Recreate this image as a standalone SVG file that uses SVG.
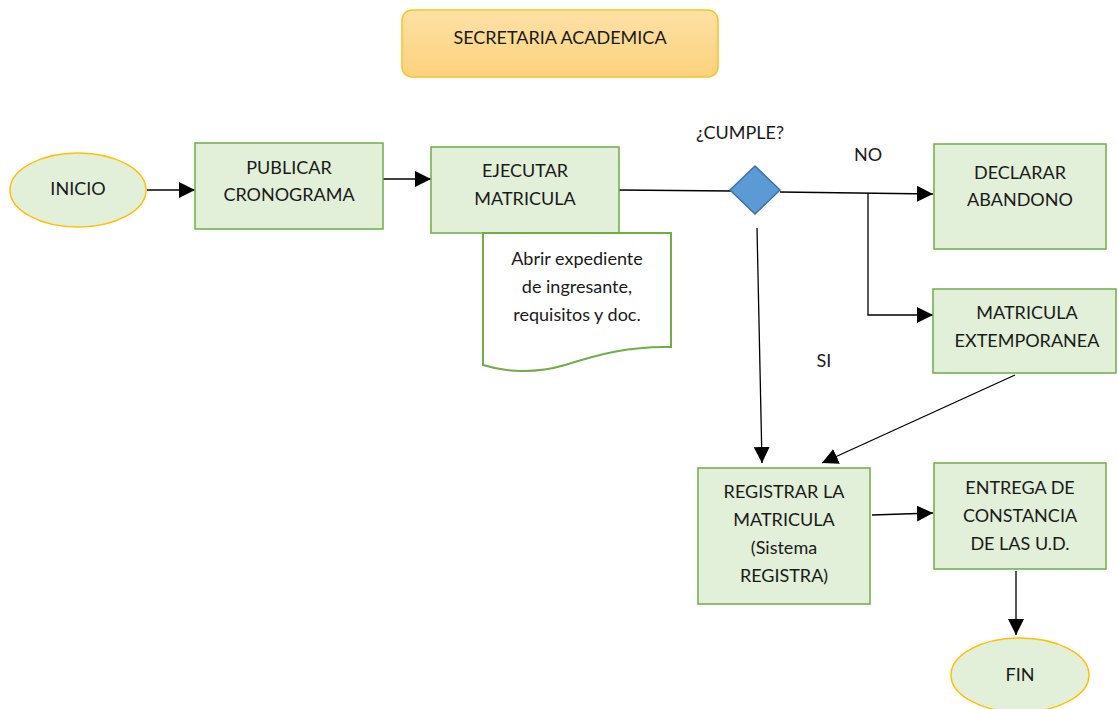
<svg xmlns="http://www.w3.org/2000/svg" width="1118" height="709" viewBox="0 0 1118 709">
  <style>
    .txt { font-family: Lato, "Open Sans", sans-serif; font-size: 18px; fill: #1a1a1a; text-anchor: middle; }
    .box { fill: #e2efd9; stroke: #70ad47; stroke-width: 1.5; }
    .term { fill: #e2efd9; stroke: #ffc000; stroke-width: 1.5; }
    .wire { fill: none; stroke: #000; stroke-width: 1.3; }
  </style>
  <defs>
    <linearGradient id="gold" x1="0" y1="0" x2="0" y2="1">
      <stop offset="0" stop-color="#fee1a6"/>
      <stop offset="1" stop-color="#fcd27c"/>
    </linearGradient>
    <marker id="arrowL" viewBox="0 0 10 10" refX="10" refY="5" markerWidth="16" markerHeight="16" markerUnits="userSpaceOnUse" orient="auto">
      <path d="M0,0 L10,5 L0,10 Z" fill="#000"/>
    </marker>
  </defs>

  <rect width="1118" height="709" fill="#fff"/>

  <!-- connectors -->
  <g id="connectors">
    <path class="wire" d="M147,190 H195" marker-end="url(#arrowL)"/>
    <path class="wire" d="M383,179 H431" marker-end="url(#arrowL)"/>
    <path class="wire" d="M619,190 L731,191"/>
    <path class="wire" d="M780,192 L933,194" marker-end="url(#arrowL)"/>
    <path class="wire" d="M868,193 V315 H933" marker-end="url(#arrowL)"/>
    <path class="wire" d="M757,228 L762,463" marker-end="url(#arrowL)"/>
    <path class="wire" d="M1015,375 L822,463" marker-end="url(#arrowL)"/>
    <path class="wire" d="M872,515 L933,513" marker-end="url(#arrowL)"/>
    <path class="wire" d="M1016,571 V635" marker-end="url(#arrowL)"/>
  </g>

  <g id="titulo">
    <rect x="402" y="10" width="316" height="67" rx="10" ry="10" fill="url(#gold)" stroke="#f9c326" stroke-width="1.5"/>
    <text class="txt" x="560" y="44">SECRETARIA ACADEMICA</text>
  </g>

  <g id="inicio">
    <ellipse class="term" cx="78" cy="190" rx="68" ry="37"/>
    <text class="txt" x="78" y="195">INICIO</text>
  </g>

  <g id="publicar">
    <rect class="box" x="195" y="143" width="188" height="86"/>
    <text class="txt" x="289" y="174">PUBLICAR</text>
    <text class="txt" x="289" y="201">CRONOGRAMA</text>
  </g>

  <g id="ejecutar">
    <rect class="box" x="431" y="147" width="188" height="86"/>
    <text class="txt" x="525" y="177">EJECUTAR</text>
    <text class="txt" x="525" y="205">MATRICULA</text>
  </g>

  <g id="expediente">
    <path d="M483,233 H671 V347 C630,346 600,354 565,365 C535,374 505,372 483,365 Z" fill="#fff" stroke="#70ad47" stroke-width="2"/>
    <text class="txt" x="577" y="265">Abrir expediente</text>
    <text class="txt" x="577" y="293">de ingresante,</text>
    <text class="txt" x="577" y="321">requisitos y doc.</text>
  </g>

  <g id="cumple">
    <path d="M755,166 L780,190 L755,214 L730,190 Z" fill="#5b9bd5" stroke="#41719c" stroke-width="1.5"/>
    <text class="txt" x="740" y="139">¿CUMPLE?</text>
  </g>

  <text class="txt" x="868" y="161">NO</text>
  <text class="txt" x="824" y="367">SI</text>

  <g id="abandono">
    <rect class="box" x="934" y="144" width="172" height="105"/>
    <text class="txt" x="1020" y="179">DECLARAR</text>
    <text class="txt" x="1020" y="206">ABANDONO</text>
  </g>

  <g id="extemporanea">
    <rect class="box" x="933" y="289" width="183" height="84"/>
    <text class="txt" x="1027" y="319">MATRICULA</text>
    <text class="txt" x="1027" y="347">EXTEMPORANEA</text>
  </g>

  <g id="registrar">
    <rect class="box" x="698" y="468" width="172" height="136"/>
    <text class="txt" x="784" y="498">REGISTRAR LA</text>
    <text class="txt" x="784" y="526">MATRICULA</text>
    <text class="txt" x="784" y="554">(Sistema</text>
    <text class="txt" x="784" y="582">REGISTRA)</text>
  </g>

  <g id="entrega">
    <rect class="box" x="934" y="463" width="172" height="106"/>
    <text class="txt" x="1020" y="494">ENTREGA DE</text>
    <text class="txt" x="1020" y="522">CONSTANCIA</text>
    <text class="txt" x="1020" y="550">DE LAS U.D.</text>
  </g>

  <g id="fin">
    <ellipse class="term" cx="1020" cy="675" rx="69" ry="37"/>
    <text class="txt" x="1020" y="681">FIN</text>
  </g>
</svg>
